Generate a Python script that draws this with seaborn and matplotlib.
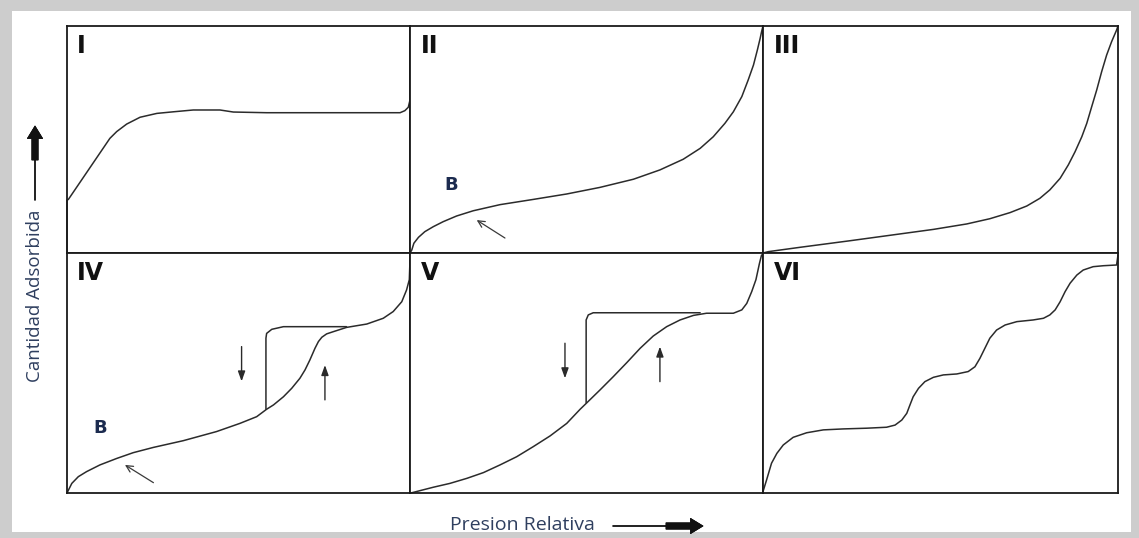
import numpy as np
import pandas as pd
import seaborn as sns
import matplotlib.pyplot as plt
from matplotlib.patches import Rectangle

# Relative pressure (x) and amount adsorbed (y), both as fractions of each panel
type1_x = [0.0, 0.0, 0.004, 0.125, 0.145, 0.174, 0.213, 0.262, 0.310, 0.368, 0.446, 0.485,
           0.582, 0.776, 0.971, 0.985, 0.995, 1.0, 1.0]
type1_y = [0.0, 0.233, 0.236, 0.505, 0.535, 0.568, 0.598, 0.615, 0.622, 0.630, 0.630, 0.621,
           0.618, 0.618, 0.618, 0.627, 0.642, 0.674, 0.997]

type2_x = [0.0, 0.005, 0.011, 0.024, 0.042, 0.066, 0.094, 0.132, 0.179, 0.255, 0.349, 0.444,
           0.538, 0.633, 0.708, 0.774, 0.822, 0.859, 0.892, 0.916, 0.940, 0.958, 0.973, 0.984,
           0.992, 0.996, 1.0]
type2_y = [0.0, 0.013, 0.043, 0.069, 0.094, 0.116, 0.138, 0.163, 0.186, 0.213, 0.236, 0.260,
           0.289, 0.325, 0.366, 0.413, 0.461, 0.512, 0.571, 0.622, 0.689, 0.762, 0.828, 0.894,
           0.946, 0.975, 1.0]

type3_x = [0.0, 0.015, 0.104, 0.245, 0.386, 0.480, 0.574, 0.639, 0.696, 0.743, 0.780, 0.808,
           0.837, 0.860, 0.879, 0.898, 0.912, 0.926, 0.940, 0.954, 0.968, 0.982, 0.996, 1.0]
type3_y = [0.0, 0.006, 0.025, 0.054, 0.084, 0.104, 0.128, 0.151, 0.178, 0.207, 0.241, 0.278,
           0.329, 0.388, 0.446, 0.512, 0.571, 0.645, 0.718, 0.799, 0.872, 0.931, 0.982, 1.0]

type4_ads_x = [0.0, 0.014, 0.033, 0.057, 0.096, 0.145, 0.193, 0.252, 0.339, 0.436, 0.504, 0.553,
               0.582, 0.602, 0.631, 0.655, 0.679, 0.694, 0.708, 0.723, 0.733, 0.743, 0.757,
               0.776, 0.815, 0.874, 0.922, 0.951, 0.976, 0.990, 0.998, 1.0]
type4_ads_y = [0.0, 0.040, 0.068, 0.089, 0.117, 0.144, 0.168, 0.190, 0.218, 0.256, 0.290, 0.318,
               0.349, 0.367, 0.401, 0.436, 0.478, 0.513, 0.554, 0.603, 0.631, 0.649, 0.663,
               0.672, 0.690, 0.704, 0.728, 0.756, 0.797, 0.846, 0.889, 0.971]
type4_des_x = [0.580, 0.580, 0.582, 0.597, 0.631, 0.815]
type4_des_y = [0.349, 0.645, 0.665, 0.682, 0.693, 0.693]

type5_ads_x = [0.0, 0.005, 0.066, 0.113, 0.161, 0.208, 0.255, 0.302, 0.349, 0.397, 0.444, 0.482,
               0.501, 0.538, 0.576, 0.614, 0.652, 0.689, 0.727, 0.765, 0.803, 0.840, 0.878,
               0.916, 0.940, 0.954, 0.968, 0.980, 0.990, 0.996]
type5_ads_y = [0.0, 0.001, 0.024, 0.040, 0.061, 0.085, 0.117, 0.151, 0.193, 0.238, 0.290, 0.349,
               0.376, 0.429, 0.485, 0.543, 0.603, 0.654, 0.693, 0.721, 0.740, 0.749, 0.749,
               0.749, 0.763, 0.790, 0.839, 0.889, 0.957, 0.992]
type5_des_x = [0.499, 0.499, 0.505, 0.519, 0.822]
type5_des_y = [0.376, 0.721, 0.742, 0.751, 0.751]

type6_x = [0.0, 0.010, 0.024, 0.039, 0.057, 0.085, 0.123, 0.170, 0.226, 0.292, 0.348, 0.372,
           0.391, 0.405, 0.414, 0.423, 0.438, 0.456, 0.480, 0.508, 0.546, 0.578, 0.597, 0.611,
           0.625, 0.639, 0.658, 0.682, 0.715, 0.761, 0.790, 0.808, 0.823, 0.837, 0.851, 0.865,
           0.884, 0.902, 0.930, 0.959, 0.996, 1.0]
type6_y = [0.006, 0.054, 0.124, 0.165, 0.200, 0.232, 0.251, 0.263, 0.267, 0.270, 0.274, 0.283,
           0.304, 0.332, 0.367, 0.401, 0.436, 0.464, 0.482, 0.492, 0.496, 0.506, 0.526, 0.561,
           0.603, 0.645, 0.679, 0.700, 0.714, 0.721, 0.728, 0.742, 0.763, 0.797, 0.839, 0.874,
           0.908, 0.929, 0.943, 0.947, 0.950, 0.992]

panel_labels = ["I", "II", "III", "IV", "V", "VI"]
x_label = "Presion Relativa"
y_label = "Cantidad Adsorbida"

sns.set_theme(style="white")
plt.rcParams["font.family"] = ["DejaVu Sans"]

W, H = 1139, 538
fig = plt.figure(figsize=(W / 100, H / 100), dpi=100)
fig.patch.set_facecolor("#cdcdcd")
fig.patches.append(Rectangle((12 / W, 1 - 532 / H), (1131 - 12) / W, (532 - 11) / H,
                             transform=fig.transFigure, facecolor="white",
                             edgecolor="none", zorder=-10))

gs = fig.add_gridspec(2, 3, left=67 / W, right=1118 / W, bottom=1 - 493 / H, top=1 - 26 / H,
                      wspace=0, hspace=0, width_ratios=[343, 353, 355],
                      height_ratios=[227, 240])
axes = [fig.add_subplot(gs[r, c]) for r in range(2) for c in range(3)]

curve_color = "#2b2b2b"
curves = [
    [(type1_x, type1_y)],
    [(type2_x, type2_y)],
    [(type3_x, type3_y)],
    [(type4_ads_x, type4_ads_y), (type4_des_x, type4_des_y)],
    [(type5_ads_x, type5_ads_y), (type5_des_x, type5_des_y)],
    [(type6_x, type6_y)],
]

for ax, label, branches in zip(axes, panel_labels, curves):
    for bx, by in branches:
        sns.lineplot(x=bx, y=by, sort=False, estimator=None, ax=ax,
                     color=curve_color, linewidth=1.1, clip_on=False)
    ax.set_xlim(0, 1)
    ax.set_ylim(0, 1)
    ax.set_xticks([])
    ax.set_yticks([])
    ax.set_xlabel("")
    ax.set_ylabel("")
    ax.set_facecolor("white")
    for sp in ax.spines.values():
        sp.set_visible(True)
        sp.set_color("#1a1a1a")
        sp.set_linewidth(1.3)
    ax.text(0.03, 0.965, label, transform=ax.transAxes, ha="left", va="top",
            fontsize=17, fontweight="black", color="#111111")

thin = dict(arrowstyle="->", color="#3a3a3a", lw=0.9, shrinkA=0, shrinkB=0)
solid = dict(arrowstyle="-|>,head_length=0.5,head_width=0.18", color="#2a2a2a",
             lw=1.0, shrinkA=0, shrinkB=0)

# point B markers and the arrows pointing at the knee
axes[1].text(0.118, 0.300, "B", transform=axes[1].transAxes, ha="center", va="center",
             fontsize=13, fontweight="bold", color="#1c2b4f")
axes[1].annotate("", xy=(0.189, 0.145), xytext=(0.269, 0.066), xycoords="axes fraction",
                 arrowprops=thin)
axes[3].text(0.096, 0.270, "B", transform=axes[3].transAxes, ha="center", va="center",
             fontsize=13, fontweight="bold", color="#1c2b4f")
axes[3].annotate("", xy=(0.169, 0.117), xytext=(0.252, 0.043), xycoords="axes fraction",
                 arrowprops=thin)

# desorption (down) and adsorption (up) direction arrows
axes[3].annotate("", xy=(0.509, 0.465), xytext=(0.509, 0.610), xycoords="axes fraction",
                 arrowprops=solid)
axes[3].annotate("", xy=(0.752, 0.533), xytext=(0.752, 0.388), xycoords="axes fraction",
                 arrowprops=solid)
axes[4].annotate("", xy=(0.439, 0.478), xytext=(0.439, 0.624), xycoords="axes fraction",
                 arrowprops=solid)
axes[4].annotate("", xy=(0.708, 0.610), xytext=(0.708, 0.464), xycoords="axes fraction",
                 arrowprops=solid)

# axis titles with their direction arrows
label_color = "#2f3f5f"
fig.text(450 / W, 1 - 525 / H, x_label, ha="left", va="center", fontsize=14,
         family="Open Sans", color=label_color)
fig.text(35 / W, 1 - 296 / H, y_label, ha="center", va="center", rotation=90,
         fontsize=13.5, family="Open Sans", color=label_color)

line_style = dict(arrowstyle="-", color="#111111", lw=1.0, shrinkA=0, shrinkB=0)
block_style = dict(arrowstyle="simple,head_length=0.9,head_width=1.1,tail_width=0.45",
                   color="#111111", lw=0.5, shrinkA=0, shrinkB=0, mutation_scale=10)
fig.add_artist(plt.annotate("", xy=(668 / W, 1 - 526 / H), xytext=(613 / W, 1 - 526 / H),
                            xycoords="figure fraction", arrowprops=line_style))
fig.add_artist(plt.annotate("", xy=(703 / W, 1 - 526 / H), xytext=(666 / W, 1 - 526 / H),
                            xycoords="figure fraction", arrowprops=block_style))
fig.add_artist(plt.annotate("", xy=(35 / W, 1 - 158 / H), xytext=(35 / W, 1 - 200 / H),
                            xycoords="figure fraction", arrowprops=line_style))
fig.add_artist(plt.annotate("", xy=(35 / W, 1 - 126 / H), xytext=(35 / W, 1 - 160 / H),
                            xycoords="figure fraction", arrowprops=block_style))

fig.savefig("out.png", dpi=100, facecolor=fig.get_facecolor())
